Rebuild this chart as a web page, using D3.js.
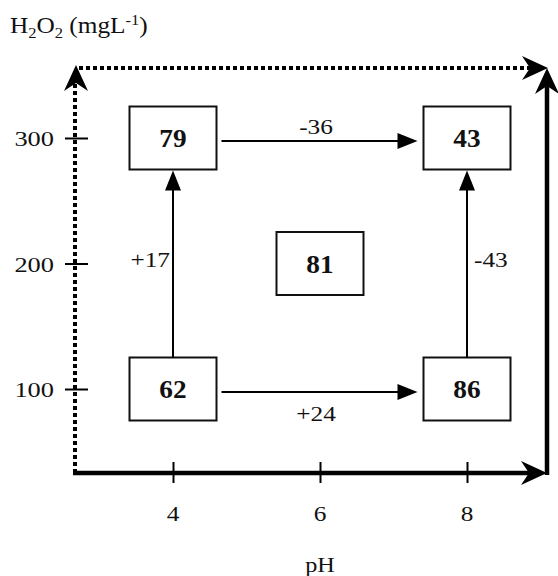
<!DOCTYPE html>
<html><head><meta charset="utf-8">
<script src="https://cdn.jsdelivr.net/npm/d3@7"></script>
<style>body{margin:0;background:#fff}svg{display:block}
text{font-family:"Liberation Serif","Times New Roman",Times,serif}</style>
</head><body><div id="chart"></div>
<script>
// ---- data ----
const xTicks = [4, 6, 8];
const yTicks = [100, 200, 300];
const boxPH = [4, 8, 6, 4, 8];
const boxH2O2 = [300, 300, 200, 100, 100];
const boxValues = [79, 43, 81, 62, 86];
// effects: from box index -> to box index, label
const effectFrom = [0, 3, 3, 4];
const effectTo = [1, 4, 0, 1];
const effectLabels = ["-36", "+24", "+17", "-43"];
const xTitle = "pH";

const W = 558, H = 576;
const svg = d3.select("#chart").append("svg").attr("width", W).attr("height", H);
const x = d3.scaleLinear().domain([4, 8]).range([173, 467]);
const y = d3.scaleLinear().domain([100, 300]).range([389, 138]);
const fLeft = 75, fRight = 547, fBottom = 473, fTop = 68;

function stretchedText(g, tx, ty, str, size, anchor, sx, weight) {
  return g.append("g").attr("transform", `translate(${tx},${ty}) scale(${sx},1)`)
    .append("text").attr("x", 0).attr("y", 0).attr("text-anchor", anchor)
    .attr("font-size", size).attr("fill", "#111")
    .attr("font-weight", weight || "normal").text(str);
}

function bigHead(tipX, tipY, dir) {
  const L = 26, Wd = 12, notch = 8;
  let pts;
  if (dir === "right") pts = [[tipX, tipY], [tipX - L, tipY - Wd], [tipX - L + notch, tipY], [tipX - L, tipY + Wd]];
  else pts = [[tipX, tipY], [tipX - Wd, tipY + L], [tipX, tipY + L - notch], [tipX + Wd, tipY + L]];
  svg.append("path").attr("d", "M" + pts.map(p => p.join(",")).join("L") + "Z").attr("fill", "#000");
}

// frame: dotted left & top
svg.append("line").attr("x1", fLeft).attr("x2", fLeft).attr("y1", fBottom).attr("y2", fTop + 16)
  .attr("stroke", "#000").attr("stroke-width", 4).attr("stroke-dasharray", "4,3");
svg.append("line").attr("x1", fLeft + 4).attr("x2", fRight - 16).attr("y1", fTop).attr("y2", fTop)
  .attr("stroke", "#000").attr("stroke-width", 4).attr("stroke-dasharray", "4,3");
bigHead(fLeft + 1, fTop - 3, "up");
bigHead(fRight + 1, fTop, "right");

// solid bottom & right
svg.append("line").attr("x1", fLeft - 2).attr("x2", fRight - 14).attr("y1", fBottom).attr("y2", fBottom)
  .attr("stroke", "#000").attr("stroke-width", 4.5);
svg.append("line").attr("x1", fRight).attr("x2", fRight).attr("y1", fBottom + 2).attr("y2", fTop + 14)
  .attr("stroke", "#000").attr("stroke-width", 4.5);
bigHead(fRight, fBottom, "right");
bigHead(fRight, fTop, "up");

// x axis ticks
const gx = svg.append("g").attr("transform", `translate(0,${fBottom})`)
  .call(d3.axisBottom(x).tickValues(xTicks).tickSize(10).tickFormat(""));
gx.select(".domain").remove();
gx.selectAll(".tick line").attr("y1", -11).attr("y2", 10).attr("stroke", "#000").attr("stroke-width", 2);
xTicks.forEach(v => stretchedText(svg, x(v), 521, String(v), 22, "middle", 1.15));

// y axis ticks
const gy = svg.append("g").attr("transform", `translate(${fLeft},0)`)
  .call(d3.axisLeft(y).tickValues(yTicks).tickSize(10).tickFormat(""));
gy.select(".domain").remove();
gy.selectAll(".tick line").attr("x1", -10).attr("x2", 13).attr("stroke", "#000").attr("stroke-width", 2);
yTicks.forEach(v => stretchedText(svg, 54, y(v) + 8, String(v), 22, "end", 1.2));

// titles
stretchedText(svg, 320, 572, xTitle, 22, "middle", 1.1);
const tt = svg.append("g").attr("transform", "translate(10,33) scale(1.1,1)")
  .append("text").attr("font-size", 23).attr("fill", "#111");
tt.append("tspan").text("H");
tt.append("tspan").attr("font-size", 15).attr("dy", 5).text("2");
tt.append("tspan").attr("dy", -5).text("O");
tt.append("tspan").attr("font-size", 15).attr("dy", 5).text("2");
tt.append("tspan").attr("dy", -5).text(" (mgL");
tt.append("tspan").attr("font-size", 15).attr("dy", -8).text("-1");
tt.append("tspan").attr("dy", 8).text(")");

// boxes
const bw = 87, bh = 63;
const boxes = boxValues.map((v, i) => ({ v, cx: x(boxPH[i]), cy: y(boxH2O2[i]) }));
svg.selectAll("rect.box").data(boxes).enter().append("rect").attr("class", "box")
  .attr("x", d => d.cx - bw / 2).attr("y", d => d.cy - bh / 2).attr("width", bw).attr("height", bh)
  .attr("fill", "#fff").attr("stroke", "#111").attr("stroke-width", 2);
boxes.forEach(d => stretchedText(svg, d.cx, d.cy + 9, String(d.v), 26, "middle", 1.05, "bold"));

// effect arrows
function smallHead(tx, ty, dir) {
  const L = 20, Wd = 8;
  let pts;
  if (dir === "right") pts = [[tx, ty], [tx - L, ty - Wd], [tx - L, ty + Wd]];
  else pts = [[tx, ty], [tx - Wd, ty + L], [tx + Wd, ty + L]];
  svg.append("path").attr("d", "M" + pts.map(p => p.join(",")).join("L") + "Z").attr("fill", "#000");
}
effectFrom.forEach((f, i) => {
  const a = boxes[f], b = boxes[effectTo[i]];
  if (a.cy === b.cy) {
    const yy = a.cy + 3;
    const x1 = a.cx + bw / 2 + 5, x2 = b.cx - bw / 2 - 6;
    svg.append("line").attr("x1", x1).attr("x2", x2 - 18).attr("y1", yy).attr("y2", yy)
      .attr("stroke", "#000").attr("stroke-width", 2);
    smallHead(x2, yy, "right");
    const above = i === 0;
    stretchedText(svg, (a.cx + b.cx) / 2 - 4, above ? yy - 7 : yy + 29, effectLabels[i], 22, "middle", 1.15);
  } else {
    const xx = a.cx;
    const y1 = a.cy - bh / 2, y2 = b.cy + bh / 2 + 1;
    svg.append("line").attr("x1", xx).attr("x2", xx).attr("y1", y1).attr("y2", y2 + 18)
      .attr("stroke", "#000").attr("stroke-width", 2);
    smallHead(xx, y2, "up");
    const isLeft = i === 2;
    stretchedText(svg, isLeft ? xx - 3 : xx + 7, 267, effectLabels[i], 22, isLeft ? "end" : "start", 1.15);
  }
});
</script></body></html>
